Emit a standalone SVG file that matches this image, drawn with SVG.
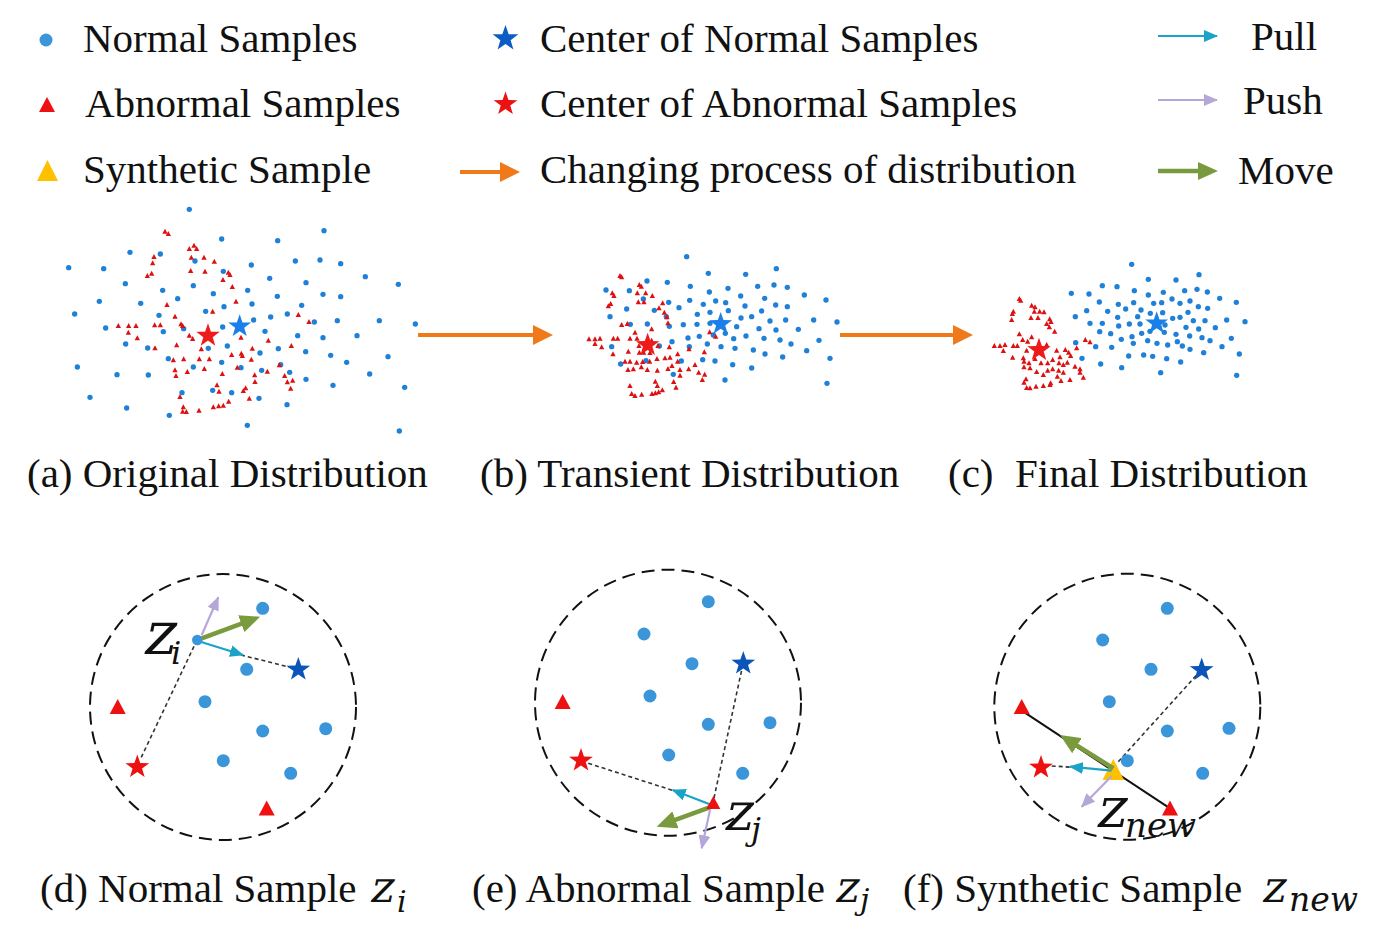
<svg xmlns="http://www.w3.org/2000/svg" xmlns:xlink="http://www.w3.org/1999/xlink" width="1400" height="939" viewBox="0 0 1400 939">
<style>
.t{font-family:"Liberation Serif","Times New Roman",serif;font-size:41px;fill:#111}
.m{font-family:"DejaVu Serif",serif;font-style:italic;fill:#111}
.z{font-family:"DejaVu Serif",serif;fill:#111}
.bd{fill:#3a96d8}
.rd{fill:#ee1111}
.bs{fill:#0b55b8}
.ring{fill:none;stroke:#111;stroke-width:2;stroke-dasharray:13 7}
.dash{fill:none;stroke:#333;stroke-width:1.6;stroke-dasharray:4 3}
.cy{stroke:#1ba2c9;stroke-width:2.2;fill:none}
.lv{stroke:#b5a8d8;stroke-width:2.2;fill:none}
.gr{stroke:#7a9a3e;stroke-width:4.5;fill:none}
.or{stroke:#f07a1a;stroke-width:4;fill:none}
</style>
<defs>
<circle id="d" r="8"/>
<path id="t" d="M0,-9 L8,6 L-8,6 Z"/>
<path id="s" d="M0,-1 L0.235,-0.324 L0.951,-0.309 L0.380,0.124 L0.588,0.809 L0,0.4 L-0.588,0.809 L-0.380,0.124 L-0.951,-0.309 L-0.235,-0.324 Z"/>
<marker id="mC" markerUnits="userSpaceOnUse" markerWidth="14" markerHeight="12" viewBox="0 0 14 12" refX="13" refY="6" orient="auto"><path d="M0,0 L14,6 L0,12 Z" fill="#1ba2c9"/></marker>
<marker id="mP" markerUnits="userSpaceOnUse" markerWidth="14" markerHeight="12" viewBox="0 0 14 12" refX="13" refY="6" orient="auto"><path d="M0,0 L14,6 L0,12 Z" fill="#b5a8d8"/></marker>
<marker id="mG" markerUnits="userSpaceOnUse" markerWidth="20" markerHeight="18" viewBox="0 0 20 18" refX="14" refY="9" orient="auto"><path d="M0,0 L20,9 L0,18 Z" fill="#7a9a3e"/></marker>
<marker id="mO" markerUnits="userSpaceOnUse" markerWidth="20" markerHeight="20" viewBox="0 0 20 20" refX="16" refY="10" orient="auto"><path d="M0,0 L20,10 L0,20 Z" fill="#f07a1a"/></marker>
</defs>
<rect width="1400" height="939" fill="#fff"/>

<g id="legend">
<g id="lg-normal"><circle cx="46" cy="40" r="6.5" class="bd"/><text class="t" x="83" y="52">Normal Samples</text></g>
<g id="lg-abnormal"><polygon points="39,112 55,112 47,97" fill="#ee1111"/><text class="t" x="85" y="117">Abnormal Samples</text></g>
<g id="lg-synthetic"><polygon points="37,181 58,181 47.5,160" fill="#ffc000"/><text class="t" x="83" y="183">Synthetic Sample</text></g>
<g id="lg-cn"><use href="#s" transform="translate(505.5,38.5) scale(13.5)" fill="#0b5cc4"/><text class="t" x="540" y="52">Center of Normal Samples</text></g>
<g id="lg-ca"><use href="#s" transform="translate(505.5,104) scale(12.5)" fill="#ee1111"/><text class="t" x="540" y="117">Center of Abnormal Samples</text></g>
<g id="lg-change"><line x1="460" y1="172" x2="516" y2="172" class="or" marker-end="url(#mO)"/><text class="t" x="540" y="183">Changing process of distribution</text></g>
<g id="lg-pull"><line x1="1158" y1="36" x2="1217" y2="36" class="cy" marker-end="url(#mC)"/><text class="t" x="1251" y="50">Pull</text></g>
<g id="lg-push"><line x1="1158" y1="100" x2="1217" y2="100" class="lv" marker-end="url(#mP)"/><text class="t" x="1243" y="114">Push</text></g>
<g id="lg-move"><line x1="1158" y1="171" x2="1212" y2="171" class="gr" marker-end="url(#mG)"/><text class="t" x="1238" y="184">Move</text></g>
</g>

<g id="panel-a" transform="translate(50,195) scale(0.33333)">
<g fill="#1f80d8">
<use href="#d" x="418" y="43"/><use href="#d" x="822" y="107"/><use href="#d" x="515" y="132"/><use href="#d" x="683" y="137"/><use href="#d" x="240" y="172"/><use href="#d" x="331" y="177"/><use href="#d" x="435" y="198"/><use href="#d" x="604" y="210"/><use href="#d" x="736" y="198"/><use href="#d" x="810" y="195"/><use href="#d" x="872" y="206"/><use href="#d" x="56" y="218"/><use href="#d" x="161" y="221"/><use href="#d" x="520" y="229"/><use href="#d" x="659" y="250"/><use href="#d" x="946" y="245"/><use href="#d" x="226" y="266"/><use href="#d" x="430" y="272"/><use href="#d" x="768" y="263"/><use href="#d" x="1045" y="268"/><use href="#d" x="338" y="286"/><use href="#d" x="490" y="296"/><use href="#d" x="593" y="286"/><use href="#d" x="682" y="304"/><use href="#d" x="819" y="298"/><use href="#d" x="872" y="305"/><use href="#d" x="148" y="319"/><use href="#d" x="272" y="325"/><use href="#d" x="383" y="311"/><use href="#d" x="522" y="335"/><use href="#d" x="606" y="327"/><use href="#d" x="755" y="331"/><use href="#d" x="74" y="357"/><use href="#d" x="327" y="361"/><use href="#d" x="467" y="349"/><use href="#d" x="712" y="357"/><use href="#d" x="662" y="366"/><use href="#d" x="988" y="377"/><use href="#d" x="862" y="377"/><use href="#d" x="793" y="381"/><use href="#d" x="611" y="375"/><use href="#d" x="1096" y="387"/><use href="#d" x="167" y="399"/><use href="#d" x="340" y="410"/><use href="#d" x="401" y="401"/><use href="#d" x="518" y="396"/><use href="#d" x="645" y="409"/><use href="#d" x="743" y="422"/><use href="#d" x="819" y="428"/><use href="#d" x="921" y="422"/><use href="#d" x="227" y="447"/><use href="#d" x="293" y="459"/><use href="#d" x="475" y="460"/><use href="#d" x="532" y="453"/><use href="#d" x="630" y="474"/><use href="#d" x="685" y="461"/><use href="#d" x="767" y="470"/><use href="#d" x="842" y="481"/><use href="#d" x="1014" y="485"/><use href="#d" x="355" y="491"/><use href="#d" x="515" y="502"/><use href="#d" x="692" y="509"/><use href="#d" x="890" y="502"/><use href="#d" x="82" y="516"/><use href="#d" x="201" y="539"/><use href="#d" x="295" y="540"/><use href="#d" x="430" y="516"/><use href="#d" x="573" y="518"/><use href="#d" x="635" y="526"/><use href="#d" x="719" y="532"/><use href="#d" x="959" y="537"/><use href="#d" x="768" y="553"/><use href="#d" x="849" y="571"/><use href="#d" x="1064" y="577"/><use href="#d" x="120" y="607"/><use href="#d" x="396" y="593"/><use href="#d" x="488" y="586"/><use href="#d" x="545" y="593"/><use href="#d" x="627" y="610"/><use href="#d" x="711" y="629"/><use href="#d" x="230" y="639"/><use href="#d" x="358" y="661"/><use href="#d" x="592" y="691"/><use href="#d" x="1048" y="708"/>
</g>
<g fill="#dd1111">
<use href="#t" x="345" y="110"/><use href="#t" x="355" y="117"/><use href="#t" x="432" y="152"/><use href="#t" x="440" y="162"/><use href="#t" x="418" y="162"/><use href="#t" x="312" y="186"/><use href="#t" x="424" y="188"/><use href="#t" x="462" y="188"/><use href="#t" x="493" y="200"/><use href="#t" x="308" y="205"/><use href="#t" x="422" y="228"/><use href="#t" x="465" y="230"/><use href="#t" x="535" y="233"/><use href="#t" x="540" y="240"/><use href="#t" x="519" y="255"/><use href="#t" x="292" y="243"/><use href="#t" x="305" y="236"/><use href="#t" x="547" y="276"/><use href="#t" x="558" y="320"/><use href="#t" x="351" y="330"/><use href="#t" x="488" y="350"/><use href="#t" x="375" y="365"/><use href="#t" x="745" y="360"/><use href="#t" x="777" y="381"/><use href="#t" x="205" y="393"/><use href="#t" x="236" y="393"/><use href="#t" x="258" y="393"/><use href="#t" x="314" y="391"/><use href="#t" x="331" y="391"/><use href="#t" x="393" y="388"/><use href="#t" x="398" y="393"/><use href="#t" x="235" y="413"/><use href="#t" x="418" y="422"/><use href="#t" x="428" y="432"/><use href="#t" x="262" y="430"/><use href="#t" x="315" y="460"/><use href="#t" x="380" y="451"/><use href="#t" x="454" y="463"/><use href="#t" x="573" y="428"/><use href="#t" x="655" y="437"/><use href="#t" x="724" y="453"/><use href="#t" x="607" y="461"/><use href="#t" x="370" y="496"/><use href="#t" x="401" y="493"/><use href="#t" x="448" y="493"/><use href="#t" x="478" y="493"/><use href="#t" x="545" y="480"/><use href="#t" x="574" y="476"/><use href="#t" x="577" y="483"/><use href="#t" x="604" y="494"/><use href="#t" x="463" y="522"/><use href="#t" x="412" y="531"/><use href="#t" x="375" y="526"/><use href="#t" x="378" y="543"/><use href="#t" x="517" y="537"/><use href="#t" x="562" y="518"/><use href="#t" x="652" y="530"/><use href="#t" x="688" y="511"/><use href="#t" x="614" y="541"/><use href="#t" x="615" y="561"/><use href="#t" x="704" y="543"/><use href="#t" x="712" y="562"/><use href="#t" x="728" y="557"/><use href="#t" x="722" y="581"/><use href="#t" x="501" y="571"/><use href="#t" x="507" y="590"/><use href="#t" x="580" y="588"/><use href="#t" x="587" y="580"/><use href="#t" x="390" y="606"/><use href="#t" x="598" y="611"/><use href="#t" x="400" y="637"/><use href="#t" x="398" y="650"/><use href="#t" x="409" y="651"/><use href="#t" x="447" y="647"/><use href="#t" x="490" y="637"/><use href="#t" x="506" y="634"/><use href="#t" x="520" y="632"/><use href="#t" x="536" y="620"/>
</g>
<use href="#s" transform="translate(474,422) scale(37)" fill="#ee1b1b"/>
<use href="#s" transform="translate(569,394) scale(36)" fill="#1a7fe8"/>
</g>

<g id="panel-b" transform="translate(570,240) scale(0.33333)">
<g fill="#1f80d8">
<use href="#d" x="350" y="50"/><use href="#d" x="415" y="100"/><use href="#d" x="527" y="103"/><use href="#d" x="619" y="86"/><use href="#d" x="108" y="150"/><use href="#d" x="231" y="123"/><use href="#d" x="292" y="127"/><use href="#d" x="361" y="139"/><use href="#d" x="474" y="145"/><use href="#d" x="563" y="139"/><use href="#d" x="612" y="135"/><use href="#d" x="652" y="142"/><use href="#d" x="178" y="152"/><use href="#d" x="418" y="156"/><use href="#d" x="512" y="168"/><use href="#d" x="584" y="175"/><use href="#d" x="703" y="165"/><use href="#d" x="768" y="180"/><use href="#d" x="220" y="177"/><use href="#d" x="296" y="187"/><use href="#d" x="359" y="181"/><use href="#d" x="400" y="193"/><use href="#d" x="437" y="183"/><use href="#d" x="467" y="188"/><use href="#d" x="525" y="198"/><use href="#d" x="617" y="195"/><use href="#d" x="652" y="200"/><use href="#d" x="170" y="207"/><use href="#d" x="253" y="211"/><use href="#d" x="327" y="203"/><use href="#d" x="382" y="223"/><use href="#d" x="420" y="217"/><use href="#d" x="475" y="212"/><use href="#d" x="575" y="213"/><use href="#d" x="120" y="230"/><use href="#d" x="289" y="230"/><use href="#d" x="513" y="234"/><use href="#d" x="545" y="230"/><use href="#d" x="600" y="243"/><use href="#d" x="647" y="240"/><use href="#d" x="731" y="240"/><use href="#d" x="801" y="246"/><use href="#d" x="181" y="253"/><use href="#d" x="232" y="252"/><use href="#d" x="298" y="259"/><use href="#d" x="340" y="254"/><use href="#d" x="381" y="253"/><use href="#d" x="420" y="250"/><use href="#d" x="500" y="260"/><use href="#d" x="567" y="266"/><use href="#d" x="618" y="270"/><use href="#d" x="685" y="268"/><use href="#d" x="430" y="285"/><use href="#d" x="466" y="280"/><use href="#d" x="388" y="289"/><use href="#d" x="354" y="294"/><use href="#d" x="491" y="296"/><use href="#d" x="528" y="288"/><use href="#d" x="582" y="295"/><use href="#d" x="630" y="300"/><use href="#d" x="663" y="312"/><use href="#d" x="747" y="301"/><use href="#d" x="125" y="320"/><use href="#d" x="268" y="318"/><use href="#d" x="306" y="305"/><use href="#d" x="358" y="320"/><use href="#d" x="412" y="312"/><use href="#d" x="453" y="320"/><use href="#d" x="495" y="325"/><use href="#d" x="550" y="330"/><use href="#d" x="585" y="342"/><use href="#d" x="638" y="351"/><use href="#d" x="710" y="332"/><use href="#d" x="780" y="355"/><use href="#d" x="152" y="372"/><use href="#d" x="228" y="362"/><use href="#d" x="334" y="363"/><use href="#d" x="398" y="359"/><use href="#d" x="435" y="363"/><use href="#d" x="488" y="374"/><use href="#d" x="545" y="384"/><use href="#d" x="310" y="403"/><use href="#d" x="465" y="420"/><use href="#d" x="771" y="430"/>
</g>
<g fill="#dd1111">
<use href="#t" x="150" y="108"/><use href="#t" x="155" y="112"/><use href="#t" x="127" y="160"/><use href="#t" x="132" y="168"/><use href="#t" x="122" y="192"/><use href="#t" x="115" y="199"/><use href="#t" x="208" y="135"/><use href="#t" x="214" y="140"/><use href="#t" x="202" y="160"/><use href="#t" x="227" y="160"/><use href="#t" x="247" y="168"/><use href="#t" x="222" y="187"/><use href="#t" x="205" y="187"/><use href="#t" x="278" y="190"/><use href="#t" x="267" y="205"/><use href="#t" x="283" y="218"/><use href="#t" x="291" y="232"/><use href="#t" x="294" y="250"/><use href="#t" x="155" y="255"/><use href="#t" x="172" y="252"/><use href="#t" x="245" y="268"/><use href="#t" x="195" y="278"/><use href="#t" x="180" y="296"/><use href="#t" x="57" y="298"/><use href="#t" x="75" y="298"/><use href="#t" x="90" y="296"/><use href="#t" x="75" y="312"/><use href="#t" x="95" y="322"/><use href="#t" x="130" y="296"/><use href="#t" x="143" y="296"/><use href="#t" x="201" y="296"/><use href="#t" x="207" y="318"/><use href="#t" x="245" y="302"/><use href="#t" x="264" y="318"/><use href="#t" x="129" y="343"/><use href="#t" x="175" y="335"/><use href="#t" x="208" y="338"/><use href="#t" x="221" y="338"/><use href="#t" x="240" y="339"/><use href="#t" x="298" y="322"/><use href="#t" x="323" y="343"/><use href="#t" x="285" y="355"/><use href="#t" x="300" y="353"/><use href="#t" x="323" y="365"/><use href="#t" x="165" y="365"/><use href="#t" x="180" y="365"/><use href="#t" x="200" y="368"/><use href="#t" x="218" y="366"/><use href="#t" x="239" y="365"/><use href="#t" x="261" y="357"/><use href="#t" x="403" y="337"/><use href="#t" x="357" y="328"/><use href="#t" x="419" y="277"/><use href="#t" x="437" y="290"/><use href="#t" x="174" y="390"/><use href="#t" x="190" y="388"/><use href="#t" x="214" y="382"/><use href="#t" x="232" y="390"/><use href="#t" x="262" y="392"/><use href="#t" x="294" y="387"/><use href="#t" x="306" y="378"/><use href="#t" x="330" y="390"/><use href="#t" x="375" y="375"/><use href="#t" x="386" y="398"/><use href="#t" x="404" y="404"/><use href="#t" x="397" y="420"/><use href="#t" x="356" y="388"/><use href="#t" x="330" y="407"/><use href="#t" x="311" y="426"/><use href="#t" x="318" y="443"/><use href="#t" x="256" y="425"/><use href="#t" x="262" y="438"/><use href="#t" x="180" y="438"/><use href="#t" x="185" y="462"/><use href="#t" x="195" y="468"/><use href="#t" x="215" y="464"/><use href="#t" x="246" y="462"/><use href="#t" x="256" y="460"/><use href="#t" x="266" y="457"/><use href="#t" x="277" y="451"/>
</g>
<use href="#s" transform="translate(233,315) scale(37)" fill="#ee1b1b"/>
<use href="#s" transform="translate(452,252) scale(36)" fill="#1a7fe8"/>
</g>

<g id="panel-c" transform="translate(980,250) scale(0.33333)">
<g fill="#1f80d8">
<use href="#d" x="455" y="43"/><use href="#d" x="657" y="74"/><use href="#d" x="505" y="88"/><use href="#d" x="588" y="90"/><use href="#d" x="367" y="107"/><use href="#d" x="411" y="110"/><use href="#d" x="463" y="122"/><use href="#d" x="550" y="127"/><use href="#d" x="614" y="122"/><use href="#d" x="651" y="118"/><use href="#d" x="682" y="126"/><use href="#d" x="274" y="130"/><use href="#d" x="327" y="132"/><use href="#d" x="505" y="135"/><use href="#d" x="576" y="147"/><use href="#d" x="630" y="153"/><use href="#d" x="719" y="145"/><use href="#d" x="769" y="157"/><use href="#d" x="358" y="156"/><use href="#d" x="415" y="163"/><use href="#d" x="461" y="158"/><use href="#d" x="521" y="160"/><use href="#d" x="545" y="158"/><use href="#d" x="600" y="160"/><use href="#d" x="655" y="170"/><use href="#d" x="683" y="175"/><use href="#d" x="320" y="182"/><use href="#d" x="383" y="184"/><use href="#d" x="437" y="177"/><use href="#d" x="483" y="180"/><use href="#d" x="511" y="190"/><use href="#d" x="548" y="188"/><use href="#d" x="578" y="205"/><use href="#d" x="624" y="187"/><use href="#d" x="286" y="200"/><use href="#d" x="413" y="202"/><use href="#d" x="473" y="200"/><use href="#d" x="600" y="202"/><use href="#d" x="640" y="212"/><use href="#d" x="675" y="212"/><use href="#d" x="740" y="210"/><use href="#d" x="795" y="215"/><use href="#d" x="330" y="220"/><use href="#d" x="367" y="220"/><use href="#d" x="416" y="228"/><use href="#d" x="448" y="222"/><use href="#d" x="480" y="222"/><use href="#d" x="555" y="225"/><use href="#d" x="618" y="232"/><use href="#d" x="656" y="237"/><use href="#d" x="706" y="233"/><use href="#d" x="359" y="245"/><use href="#d" x="392" y="251"/><use href="#d" x="456" y="260"/><use href="#d" x="485" y="250"/><use href="#d" x="510" y="244"/><use href="#d" x="553" y="247"/><use href="#d" x="588" y="253"/><use href="#d" x="629" y="258"/><use href="#d" x="666" y="263"/><use href="#d" x="754" y="265"/><use href="#d" x="287" y="278"/><use href="#d" x="347" y="290"/><use href="#d" x="424" y="268"/><use href="#d" x="460" y="280"/><use href="#d" x="503" y="272"/><use href="#d" x="531" y="280"/><use href="#d" x="563" y="285"/><use href="#d" x="592" y="275"/><use href="#d" x="607" y="288"/><use href="#d" x="630" y="298"/><use href="#d" x="690" y="272"/><use href="#d" x="726" y="290"/><use href="#d" x="395" y="292"/><use href="#d" x="446" y="318"/><use href="#d" x="491" y="315"/><use href="#d" x="518" y="319"/><use href="#d" x="560" y="326"/><use href="#d" x="602" y="336"/><use href="#d" x="671" y="308"/><use href="#d" x="778" y="312"/><use href="#d" x="306" y="325"/><use href="#d" x="362" y="342"/><use href="#d" x="425" y="353"/><use href="#d" x="542" y="368"/><use href="#d" x="770" y="376"/>
</g>
<g fill="#dd1111">
<use href="#t" x="118" y="147"/><use href="#t" x="122" y="152"/><use href="#t" x="100" y="185"/><use href="#t" x="97" y="192"/><use href="#t" x="95" y="210"/><use href="#t" x="155" y="167"/><use href="#t" x="165" y="172"/><use href="#t" x="163" y="185"/><use href="#t" x="179" y="185"/><use href="#t" x="192" y="187"/><use href="#t" x="153" y="204"/><use href="#t" x="174" y="204"/><use href="#t" x="209" y="208"/><use href="#t" x="213" y="216"/><use href="#t" x="200" y="222"/><use href="#t" x="224" y="245"/><use href="#t" x="208" y="232"/><use href="#t" x="118" y="253"/><use href="#t" x="128" y="270"/><use href="#t" x="155" y="262"/><use href="#t" x="43" y="288"/><use href="#t" x="60" y="288"/><use href="#t" x="75" y="285"/><use href="#t" x="70" y="303"/><use href="#t" x="100" y="288"/><use href="#t" x="112" y="288"/><use href="#t" x="140" y="302"/><use href="#t" x="143" y="275"/><use href="#t" x="200" y="285"/><use href="#t" x="230" y="302"/><use href="#t" x="256" y="300"/><use href="#t" x="266" y="308"/><use href="#t" x="272" y="318"/><use href="#t" x="290" y="295"/><use href="#t" x="316" y="270"/><use href="#t" x="330" y="277"/><use href="#t" x="98" y="323"/><use href="#t" x="130" y="325"/><use href="#t" x="132" y="335"/><use href="#t" x="147" y="340"/><use href="#t" x="132" y="352"/><use href="#t" x="150" y="355"/><use href="#t" x="165" y="327"/><use href="#t" x="183" y="340"/><use href="#t" x="203" y="340"/><use href="#t" x="218" y="330"/><use href="#t" x="240" y="322"/><use href="#t" x="237" y="340"/><use href="#t" x="250" y="345"/><use href="#t" x="262" y="338"/><use href="#t" x="285" y="350"/><use href="#t" x="300" y="358"/><use href="#t" x="170" y="366"/><use href="#t" x="203" y="362"/><use href="#t" x="218" y="358"/><use href="#t" x="236" y="362"/><use href="#t" x="250" y="368"/><use href="#t" x="300" y="368"/><use href="#t" x="310" y="383"/><use href="#t" x="138" y="388"/><use href="#t" x="132" y="398"/><use href="#t" x="150" y="415"/><use href="#t" x="140" y="414"/><use href="#t" x="168" y="410"/><use href="#t" x="190" y="408"/><use href="#t" x="210" y="405"/><use href="#t" x="212" y="400"/><use href="#t" x="232" y="380"/><use href="#t" x="243" y="393"/><use href="#t" x="270" y="390"/><use href="#t" x="190" y="375"/>
</g>
<use href="#s" transform="translate(177,300) scale(37)" fill="#ee1b1b"/>
<use href="#s" transform="translate(530,220) scale(36)" fill="#1a7fe8"/>
</g>

<g id="captions-top">
<text class="t" x="27" y="487">(a) Original Distribution</text>
<text class="t" x="480" y="487">(b) Transient Distribution</text>
<text class="t" x="948" y="487">(c)</text>
<text class="t" x="1015" y="487">Final Distribution</text>
</g>

<g id="rings">
<circle cx="223" cy="707" r="133" class="ring"/>
<circle cx="668" cy="702.7" r="133" class="ring"/>
<circle cx="1127.3" cy="706.7" r="133" class="ring"/>
</g>

<g id="connectors">
<line x1="418" y1="335" x2="549" y2="335" class="or" marker-end="url(#mO)"/>
<line x1="840" y1="335" x2="969" y2="335" class="or" marker-end="url(#mO)"/>
<line x1="197" y1="640" x2="140" y2="760" class="dash"/>
<line x1="241" y1="655" x2="293" y2="668" class="dash"/>
<line x1="198" y1="641" x2="243" y2="655" class="cy" marker-end="url(#mC)"/>
<line x1="201.7" y1="635" x2="218.3" y2="597.3" class="lv" marker-end="url(#mP)"/>
<line x1="201.7" y1="638.3" x2="254.4" y2="618.8" class="gr" marker-end="url(#mG)"/>
<line x1="714" y1="798" x2="741.7" y2="670" class="dash"/>
<line x1="588.3" y1="763.3" x2="676.7" y2="791.7" class="dash"/>
<line x1="711.7" y1="805" x2="672.7" y2="790" class="cy" marker-end="url(#mC)"/>
<line x1="711.7" y1="806.7" x2="662.3" y2="824.6" class="gr" marker-end="url(#mG)"/>
<line x1="710" y1="810" x2="701.7" y2="848.3" class="lv" marker-end="url(#mP)"/>
<line x1="1023.3" y1="711.7" x2="1170" y2="808.3" stroke="#111" stroke-width="2"/>
<line x1="1118.3" y1="761.7" x2="1196.7" y2="675" class="dash"/>
<line x1="1051.7" y1="766" x2="1073.3" y2="767.3" class="dash"/>
</g>

<g id="panel-d">
<circle cx="262.7" cy="608.3" r="6.5" class="bd"/><circle cx="246.7" cy="669.3" r="6.5" class="bd"/><circle cx="205" cy="701.7" r="6.5" class="bd"/><circle cx="262.7" cy="731" r="6.5" class="bd"/><circle cx="325.7" cy="728.7" r="6.5" class="bd"/><circle cx="223.3" cy="760.7" r="6.5" class="bd"/><circle cx="290.7" cy="773.3" r="6.5" class="bd"/>
<circle cx="197.3" cy="640" r="5.3" class="bd"/>
<polygon points="117.7,699 109.7,714 125.7,714" class="rd"/>
<polygon points="266.7,800.6 258.7,815.6 274.7,815.6" class="rd"/>
<use href="#s" transform="translate(137.3,767) scale(12.5)" class="rd"/>
<use href="#s" transform="translate(298.3,669.5) scale(12.5)" class="bs"/>
<text class="z" transform="translate(142,654) skewX(-12)" font-size="60">z</text><text class="m" x="171" y="664" font-size="32">i</text>
</g>

<g id="panel-e">
<circle cx="708.3" cy="601.7" r="6.5" class="bd"/><circle cx="644" cy="634" r="6.5" class="bd"/><circle cx="692" cy="663.7" r="6.5" class="bd"/><circle cx="650" cy="696" r="6.5" class="bd"/><circle cx="708.3" cy="724.3" r="6.5" class="bd"/><circle cx="770" cy="722.7" r="6.5" class="bd"/><circle cx="668.7" cy="755" r="6.5" class="bd"/><circle cx="742.7" cy="773.3" r="6.5" class="bd"/>
<polygon points="562.7,694 554.7,709 570.7,709" class="rd"/>
<polygon points="713.3,796 706.3,809 720.3,809" class="rd"/>
<use href="#s" transform="translate(581,760.5) scale(12.5)" class="rd"/>
<use href="#s" transform="translate(743.3,663.5) scale(12.5)" class="bs"/>
<text class="z" transform="translate(723,830) skewX(-12)" font-size="53">z</text><text class="m" x="751" y="840" font-size="32">j</text>
</g>

<g id="panel-f">
<circle cx="1167.3" cy="608.3" r="6.5" class="bd"/><circle cx="1102.7" cy="640" r="6.5" class="bd"/><circle cx="1151" cy="669.3" r="6.5" class="bd"/><circle cx="1109.3" cy="701.7" r="6.5" class="bd"/><circle cx="1167.3" cy="731" r="6.5" class="bd"/><circle cx="1229" cy="728.3" r="6.5" class="bd"/><circle cx="1127.3" cy="760.7" r="6.5" class="bd"/><circle cx="1202.7" cy="773.3" r="6.5" class="bd"/>
<use href="#s" transform="translate(1201.7,670) scale(12.5)" class="bs"/>
<polygon points="1021.7,699 1013.7,714 1029.7,714" class="rd"/>
<polygon points="1170,800.6 1162,815.6 1178,815.6" class="rd"/>
<use href="#s" transform="translate(1041,767.5) scale(12.5)" class="rd"/>
<polygon points="1113.3,759 1102.5,780 1124,780" fill="#ffc000"/>
<text class="z" transform="translate(1095,827) skewX(-12)" font-size="56">z</text><text class="m" x="1125" y="837" font-size="34">new</text>
</g>

<g id="connectors-f">
<line x1="1111.7" y1="770.7" x2="1070" y2="766.7" class="cy" marker-end="url(#mC)"/>
<line x1="1113.3" y1="768.3" x2="1065.1" y2="738.2" class="gr" marker-end="url(#mG)"/>
<line x1="1111.7" y1="776" x2="1081.7" y2="806.7" class="lv" marker-end="url(#mP)"/>
</g>

<g id="captions-bottom">
<text class="t" x="40" y="902">(d) Normal Sample</text>
<text class="z" transform="translate(369,902) skewX(-12)" font-size="44">z</text><text class="m" x="397" y="912" font-size="30">i</text>
<text class="t" x="472" y="902">(e) Abnormal Sample</text>
<text class="z" transform="translate(834,902) skewX(-12)" font-size="44">z</text><text class="m" x="860" y="910" font-size="30">j</text>
<text class="t" x="903" y="902">(f) Synthetic Sample</text>
<text class="z" transform="translate(1261,902) skewX(-12)" font-size="44">z</text><text class="m" x="1289" y="911" font-size="33">new</text>
</g>
</svg>
